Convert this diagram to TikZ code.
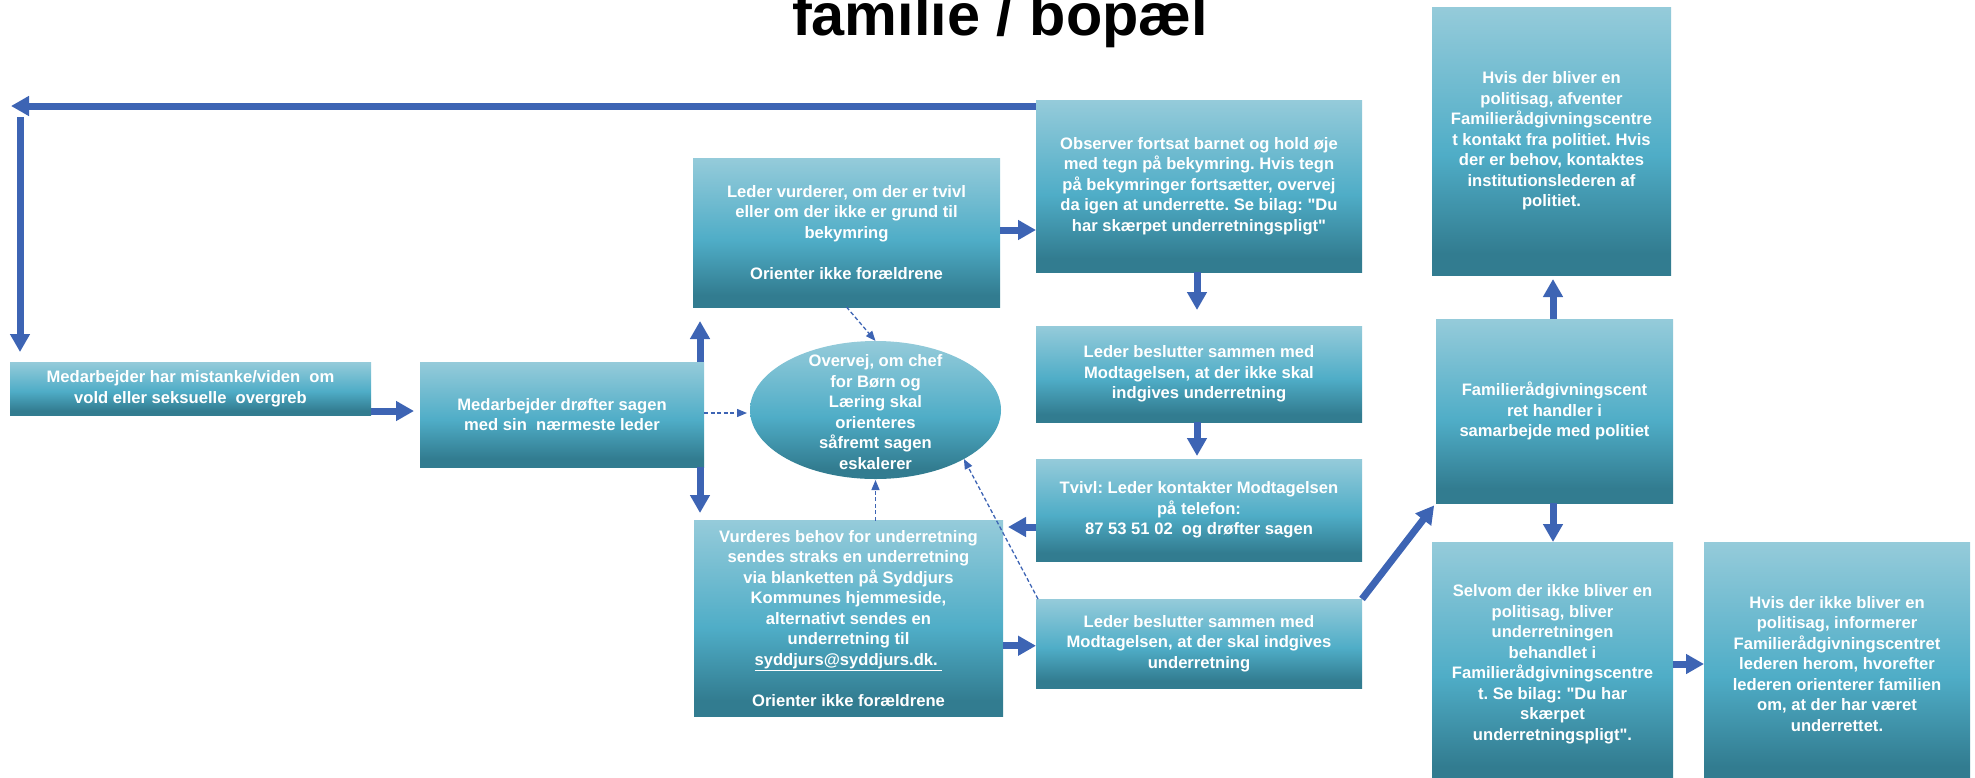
\documentclass[tikz,border=0pt]{standalone}
\usepackage{fontspec}
\setmainfont{Liberation Sans}
\usetikzlibrary{arrows.meta,shapes.geometric,calc}
\definecolor{gT}{HTML}{95CBDA}
\definecolor{gM}{HTML}{4FADC7}
\definecolor{gB}{HTML}{327C90}
\definecolor{arrowblue}{RGB}{61,100,180}
\pgfdeclareverticalshading{boxgrad}{100bp}{color(0bp)=(gB); color(29bp)=(gB); color(47.5bp)=(gM); color(75bp)=(gT); color(100bp)=(gT)}
\newcommand{\mybxfont}{\bfseries\fontsize{16.6}{20.5}\selectfont}
\newcommand{\qq}{\textquotedbl}
\frenchspacing
\begin{document}
\begin{tikzpicture}[x=1pt,y=-1pt,
  box/.style={rectangle, shading=boxgrad, draw=none, inner sep=0pt, outer sep=0pt, align=center, text=white, font=\mybxfont},
  big/.style={draw=arrowblue, line width=7pt, -{Triangle[length=18pt,width=19pt]}},
  dsh/.style={draw=arrowblue, line width=1.3pt, dash pattern=on 4pt off 2.5pt, -{Triangle[length=10pt,width=8pt]}}]
\useasboundingbox (0,0) rectangle (1975,777);
\clip (0,0) rectangle (1975,777);

\node[anchor=base, font=\bfseries\fontsize{59.4}{70}\selectfont] (T) at (1000,35) {familie / bopæl};

\node[box, minimum width=361pt, minimum height=53pt] (B1) at (190.5,388.5)
  {Medarbejder har mistanke/viden\ \ om\\vold eller seksuelle\ \ overgreb};
\node[box, minimum width=284pt, minimum height=105pt] (B2) at (562,414.5)
  {Medarbejder drøfter sagen\\med sin\ \ nærmeste leder};
\node[box, minimum width=307pt, minimum height=149pt] (B3) at (846.5,232.5)
  {Leder vurderer, om der er tvivl\\eller om der ikke er grund til\\bekymring\\[20.5pt]Orienter ikke forældrene};
\node[ellipse, shading=boxgrad, draw=none, minimum width=251pt, minimum height=138pt, inner sep=0pt, outer sep=0pt] (E) at (875.5,410) {};
\node[align=center, text=white, font=\mybxfont, inner sep=0pt] (Et) at (875.5,412)
  {Overvej, om chef\\for Børn og\\Læring skal\\orienteres\\såfremt sagen\\eskalerer};
\node[box, minimum width=309pt, minimum height=195.5pt] (B4) at (848.5,618.25)
  {Vurderes behov for underretning\\sendes straks en underretning\\via blanketten på Syddjurs\\Kommunes hjemmeside,\\alternativt sendes en\\underretning til\\\underline{syddjurs@syddjurs.dk.\ }\\[20.5pt]Orienter ikke forældrene};
\node[box, minimum width=326pt, minimum height=172pt] (B5) at (1199,186)
  {Observer fortsat barnet og hold øje\\med tegn på bekymring. Hvis tegn\\på bekymringer fortsætter, overvej\\da igen at underrette. Se bilag: \qq Du\\har skærpet underretningspligt\qq};
\node[box, minimum width=326pt, minimum height=96pt] (B6) at (1199,374)
  {Leder beslutter sammen med\\Modtagelsen, at der ikke skal\\indgives underretning};
\node[box, minimum width=326pt, minimum height=102pt] (B7) at (1199,510)
  {Tvivl: Leder kontakter Modtagelsen\\på telefon:\\87 53 51 02\ \ og drøfter sagen};
\node[box, minimum width=326pt, minimum height=89pt] (B8) at (1199,643.5)
  {Leder beslutter sammen med\\Modtagelsen, at der skal indgives\\underretning};
\node[box, minimum width=239pt, minimum height=268pt] (B9) at (1551.5,141)
  {Hvis der bliver en\\politisag, afventer\\Familierådgivningscentre\\t kontakt fra politiet. Hvis\\der er behov, kontaktes\\institutionslederen af\\politiet.};
\node[box, minimum width=237pt, minimum height=184pt] (B10) at (1554.5,411)
  {Familierådgivningscent\\ret handler i\\samarbejde med politiet};
\node[box, minimum width=241pt, minimum height=244pt] (B11) at (1552.5,664)
  {Selvom der ikke bliver en\\politisag, bliver\\underretningen\\behandlet i\\Familierådgivningscentre\\t. Se bilag: \qq Du har\\skærpet\\underretningspligt\qq.};
\node[box, minimum width=266pt, minimum height=244pt] (B12) at (1837,664)
  {Hvis der ikke bliver en\\politisag, informerer\\Familierådgivningscentret\\lederen herom, hvorefter\\lederen orienterer familien\\om, at der har været\\underrettet.};

% solid connectors
\coordinate (c1) at (11,106);
\coordinate (c2) at (20,117);
\draw[big] (B5.west |- c1) -- (c1);
\draw[big, shorten >=10pt] (c2) -- (c2 |- B1.north);
\coordinate (a3) at ($(B1.east)+(0,22.5)$);
\draw[big, shorten >=6pt] (a3) -- (a3 -| B2.west);
\coordinate (a4) at ($(B2.north)+(138,0)$);
\draw[big, shorten >=14pt] (a4) -- (a4 |- B3.south);
\coordinate (a5) at ($(B2.south)+(138,0)$);
\draw[big, shorten >=7.5pt] (a5) -- (a5 |- B4.north);
\coordinate (a6) at ($(B3.east)+(0,-2.5)$);
\draw[big] (a6) -- (a6 -| B5.west);
\coordinate (a7) at ($(B5.south)+(-2,0)$);
\draw[big, shorten >=16pt] (a7) -- (a7 |- B6.north);
\coordinate (a8) at ($(B6.south)+(-2,0)$);
\draw[big, shorten >=3pt] (a8) -- (a8 |- B7.north);
\coordinate (a9) at ($(B7.west)+(0,17)$);
\draw[big, shorten >=5pt] (a9) -- (a9 -| B4.east);
\coordinate (a10) at ($(B4.east)+(0,27.5)$);
\draw[big] (a10) -- (a10 -| B8.west);
\draw[big, shorten >=3pt] (B8.north east) -- (B10.south west);
\coordinate (a12) at ($(B10.north)+(-1.5,0)$);
\draw[big, shorten >=4pt] (a12) -- (a12 |- B9.south);
\coordinate (a13) at ($(B10.south)+(-1.5,0)$);
\draw[big] (a13) -- (a13 |- B11.north);
\draw[big] (B11.east) -- (B12.west);

% dashed connectors
\draw[dsh] (B3.south) -- (E.north);
\coordinate (d2) at ($(B2.east)+(0,-1.5)$);
\draw[dsh, shorten >=3pt] (d2) -- (d2 -| E.west);
\draw[dsh, shorten >=1pt] (E.south |- B4.north) -- (E.south);
\coordinate (d4) at ($(B8.north west)+(2,0)$);
\draw[dsh] (d4) -- (E.-29);
\end{tikzpicture}
\end{document}
